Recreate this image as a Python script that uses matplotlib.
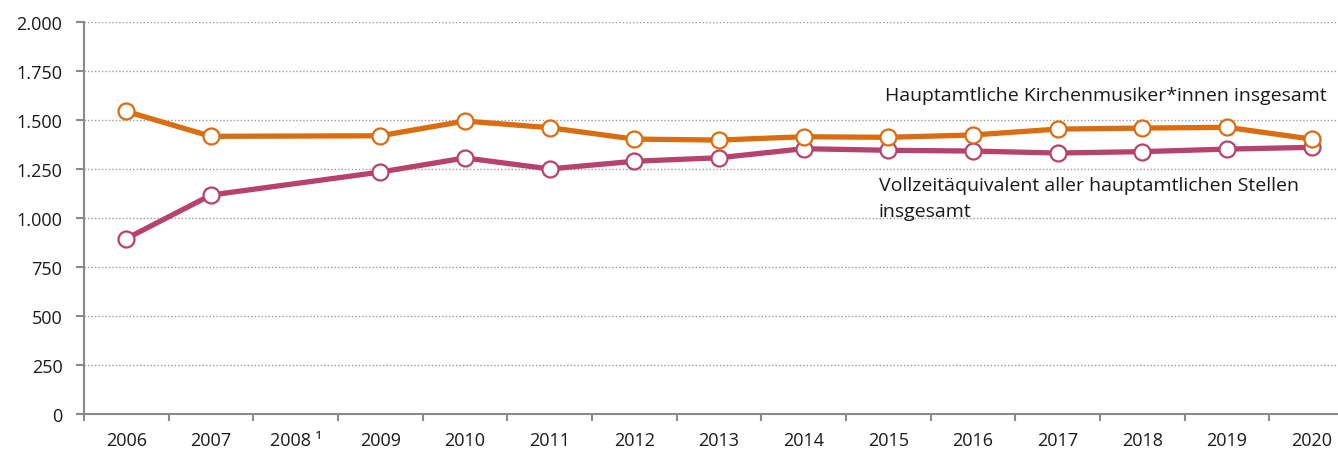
import matplotlib
matplotlib.use("Agg")
import matplotlib.pyplot as plt
from matplotlib.ticker import FuncFormatter, FixedLocator

plt.rcParams['font.family'] = ['Open Sans', 'DejaVu Sans']

years = ["2006", "2007", "2008 ¹", "2009", "2010", "2011", "2012", "2013",
         "2014", "2015", "2016", "2017", "2018", "2019", "2020"]
musiker = [1543, 1416, None, 1419, 1494, 1460, 1402, 1397,
           1414, 1411, 1423, 1453, 1458, 1462, 1402]
vollzeit = [895, 1117, None, 1234, 1306, 1250, 1289, 1307,
            1353, 1345, 1341, 1331, 1338, 1351, 1360]
yticks = [0, 250, 500, 750, 1000, 1250, 1500, 1750, 2000]

orange = "#D96D10"
purple = "#B6426D"
axis_col = "#8a8a8a"
text_col = "#1a1a1a"

W, H = 1338, 452
fig = plt.figure(figsize=(W / 100, H / 100), dpi=100)
ax = fig.add_axes([84 / W, 1 - 415.3 / H, 1270 / W, 392.6 / H])

def series(vals):
    xs = [i for i, v in enumerate(vals) if v is not None]
    ys = [v for v in vals if v is not None]
    return xs, ys

for vals, col in [(vollzeit, purple), (musiker, orange)]:
    xs, ys = series(vals)
    ax.plot(xs, ys, color=col, lw=3.8, solid_joinstyle='round', zorder=3)
    ax.plot(xs, ys, ls='none', marker='o', ms=11.5, mfc='white', mec=col,
            mew=1.6, zorder=4)

ax.set_xlim(-0.5, 14.5)
ax.set_ylim(0, 2000)
ax.set_yticks(yticks)
ax.yaxis.set_major_formatter(FuncFormatter(lambda v, p: f"{int(v):,}".replace(",", ".")))
ax.set_xticks(range(len(years)))
ax.set_xticklabels(years)
ax.xaxis.set_minor_locator(FixedLocator([i - 0.5 for i in range(len(years) + 1)]))
ax.tick_params(axis='x', which='major', length=0, pad=12, labelsize=13, colors=text_col)
ax.tick_params(axis='x', which='minor', length=5, width=1.5, color=axis_col)
ax.tick_params(axis='y', length=5.5, width=1.5, color=axis_col, pad=10,
               labelsize=13, labelcolor=text_col)

for s in ['top', 'right']:
    ax.spines[s].set_visible(False)
for s in ['left', 'bottom']:
    ax.spines[s].set_color(axis_col)
    ax.spines[s].set_linewidth(1.5)

ax.grid(axis='y', color='#9a9a9a', ls=(0, (1, 1.5)), lw=1.0, zorder=0)
ax.set_axisbelow(True)

fig.text(885 / W, 1 - 101 / H, "Hauptamtliche Kirchenmusiker*innen insgesamt",
         fontsize=14, color=text_col, va='baseline', ha='left')
fig.text(879 / W, 1 - 191 / H, "Vollzeitäquivalent aller hauptamtlichen Stellen",
         fontsize=14, color=text_col, va='baseline', ha='left')
fig.text(879 / W, 1 - 217 / H, "insgesamt",
         fontsize=14, color=text_col, va='baseline', ha='left')

fig.savefig("out.png", dpi=100)
